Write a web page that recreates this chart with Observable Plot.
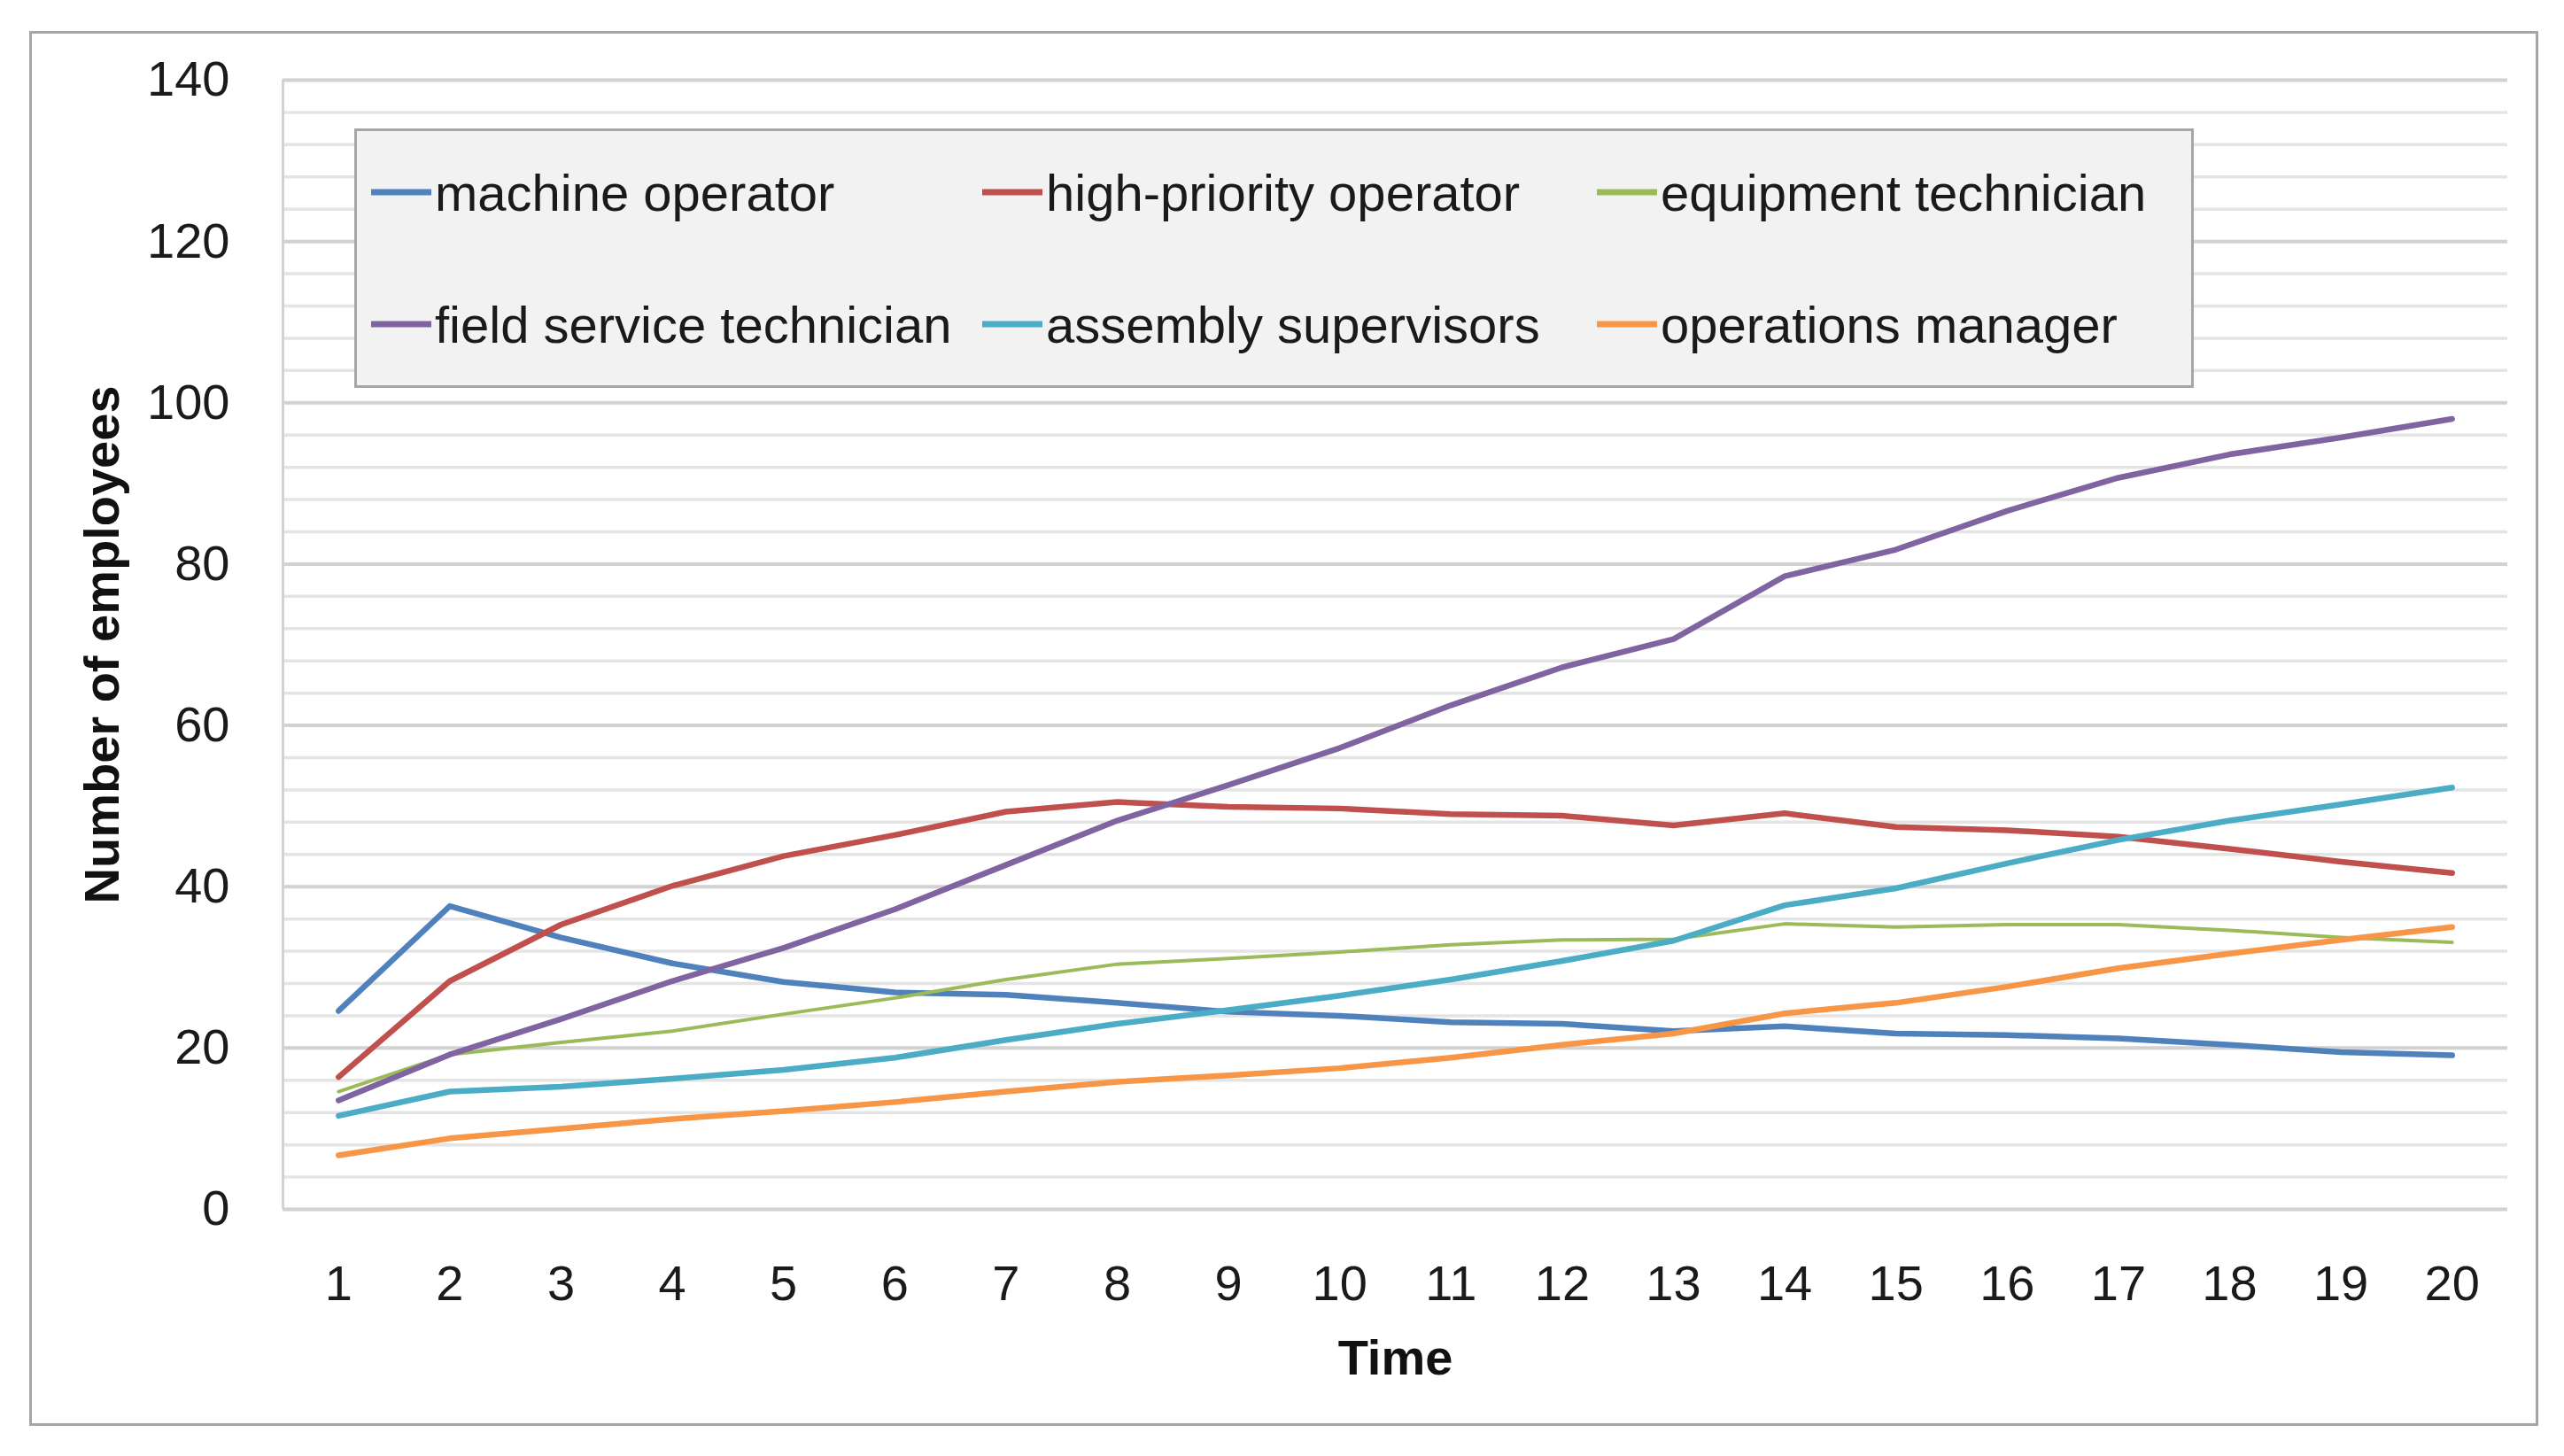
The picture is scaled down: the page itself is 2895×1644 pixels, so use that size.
<!DOCTYPE html>
<html>
<head>
<meta charset="utf-8">
<script src="https://cdn.jsdelivr.net/npm/d3@7"></script>
<script src="https://cdn.jsdelivr.net/npm/@observablehq/plot@0.6"></script>
<style>
  body { margin: 0; background: #fff; font-family: "Liberation Sans", Arial, sans-serif; }
  #wrap { position: relative; width: 2895px; height: 1644px; }
  #border { position: absolute; left: 33px; top: 35px; width: 2833px; height: 1575px;
            border: 3px solid #a6a6a6; box-sizing: border-box; pointer-events: none; }
  #legend { position: absolute; left: 400px; top: 145px; width: 2077px; height: 293px;
            background: #f2f2f2; border: 3px solid #a6a6a6; box-sizing: border-box; }
  .item { position: absolute; display: flex; align-items: center; font-size: 58px;
          color: #1a1a1a; white-space: nowrap; transform: translateY(-50%); }
  .swatch { width: 68px; height: 7px; margin-right: 4px; }
</style>
</head>
<body>
<div id="wrap">
  <div id="chart"></div>
  <div id="border"></div>
  <div id="legend"></div>
</div>
<script>
/* datos */
const timeSteps = [1, 2, 3, 4, 5, 6, 7, 8, 9, 10, 11, 12, 13, 14, 15, 16, 17, 18, 19, 20]
const yTicks = [0, 20, 40, 60, 80, 100, 120, 140]

const machineOperator = [24.6, 37.6, 33.7, 30.5, 28.2, 26.9, 26.6, 25.6, 24.5, 24.0, 23.2, 23.0, 22.1, 22.7, 21.8, 21.6, 21.2, 20.4, 19.5, 19.1]
const highPriorityOperator = [16.4, 28.3, 35.3, 40.1, 43.8, 46.4, 49.3, 50.5, 49.9, 49.7, 49.0, 48.8, 47.6, 49.1, 47.4, 47.0, 46.2, 44.7, 43.1, 41.7]
const equipmentTechnician = [14.6, 19.2, 20.7, 22.1, 24.2, 26.2, 28.5, 30.4, 31.1, 31.9, 32.8, 33.4, 33.5, 35.4, 35.0, 35.3, 35.3, 34.6, 33.7, 33.1]
const fieldServiceTechnician = [13.5, 19.2, 23.6, 28.3, 32.4, 37.2, 42.7, 48.2, 52.6, 57.2, 62.5, 67.2, 70.7, 78.5, 81.8, 86.6, 90.7, 93.6, 95.7, 98.0]
const assemblySupervisors = [11.6, 14.6, 15.2, 16.2, 17.3, 18.8, 21.0, 23.0, 24.7, 26.5, 28.5, 30.8, 33.3, 37.7, 39.8, 42.9, 45.8, 48.2, 50.2, 52.3]
const operationsManager = [6.7, 8.8, 10.0, 11.2, 12.2, 13.3, 14.6, 15.8, 16.6, 17.5, 18.8, 20.4, 21.8, 24.3, 25.6, 27.6, 29.9, 31.7, 33.4, 35.0]

const seriesNames = ["machine operator", "high-priority operator", "equipment technician",
  "field service technician", "assembly supervisors", "operations manager"]
const seriesValues = [machineOperator, highPriorityOperator, equipmentTechnician,
  fieldServiceTechnician, assemblySupervisors, operationsManager]
const seriesColors = ["#4f81bd", "#c0504d", "#9bbb59", "#8064a2", "#4bacc6", "#f79646"]
const seriesWidths = [6.5, 6.5, 4, 6.5, 6.5, 6.5]

const xDomain = [0.5, 20.5]
const minorTicks = d3.range(0, 141, 4)

function createChart() {
  const lines = seriesValues.map((vals, i) =>
    Plot.lineY(vals.map((v, j) => ({time: timeSteps[j], value: v})), {
      x: "time",
      y: "value",
      stroke: seriesColors[i],
      strokeWidth: seriesWidths[i],
      strokeLinejoin: "round",
      strokeLinecap: "round"
    })
  )

  const chart = Plot.plot({
    width: 2895,
    height: 1644,
    marginLeft: 319,
    marginRight: 64,
    marginTop: 90,
    marginBottom: 279,
    style: {fontFamily: "'Liberation Sans', Arial, sans-serif", background: "white", color: "#1a1a1a"},
    x: {domain: xDomain},
    y: {domain: [0, 140]},
    marks: [
      Plot.ruleY(minorTicks, {stroke: "#e4e4e4", strokeWidth: 3.5}),
      Plot.ruleY(yTicks, {stroke: "#d2d2d2", strokeWidth: 4}),
      Plot.ruleX([xDomain[0]], {y1: 0, y2: 140, stroke: "#d2d2d2", strokeWidth: 3}),
      ...lines,
      Plot.axisY({
        ticks: yTicks,
        tickSize: 0,
        tickPadding: 60,
        fontSize: 56,
        label: null
      }),
      Plot.axisX({
        ticks: timeSteps,
        tickSize: 0,
        tickPadding: 63,
        fontSize: 56,
        tickFormat: d => d,
        label: null
      }),
      Plot.text(["Number of employees"], {
        frameAnchor: "left",
        dx: -203,
        rotate: -90,
        textAnchor: "middle",
        lineAnchor: "middle",
        fontSize: 56,
        fontWeight: "bold",
        fill: "#111"
      }),
      Plot.text(["Time"], {
        frameAnchor: "bottom",
        dy: 169,
        textAnchor: "middle",
        lineAnchor: "middle",
        fontSize: 56,
        fontWeight: "bold",
        fill: "#111"
      })
    ]
  })

  d3.select('#chart svg').remove()
  d3.select('#chart').append(() => chart)
}

/* leyenda dentro del area del grafico */
function createLegend() {
  const colX = [16, 706, 1400]
  const rowY = [69, 218]
  const legend = d3.select('#legend')
  seriesNames.forEach((name, i) => {
    const item = legend.append('div')
      .attr('class', 'item')
      .style('left', colX[i % 3] + 'px')
      .style('top', rowY[Math.floor(i / 3)] + 'px')
    item.append('div').attr('class', 'swatch').style('background', seriesColors[i])
    item.append('span').text(name)
  })
}

createChart()
createLegend()
</script>
</body>
</html>
